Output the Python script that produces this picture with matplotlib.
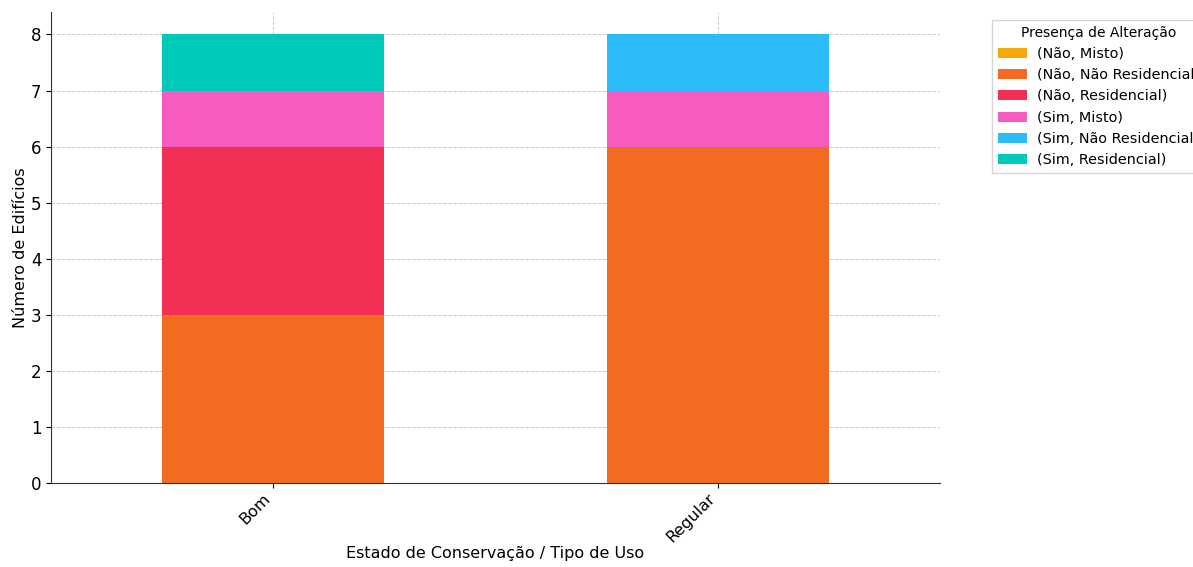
import numpy as np
from matplotlib import pyplot as plt

estados = ['Bom', 'Regular']
series = ['(Não, Misto)', '(Não, Não Residencial)', '(Não, Residencial)',
          '(Sim, Misto)', '(Sim, Não Residencial)', '(Sim, Residencial)']
valores = {
    '(Não, Misto)': [0, 0],
    '(Não, Não Residencial)': [3, 6],
    '(Não, Residencial)': [3, 0],
    '(Sim, Misto)': [1, 1],
    '(Sim, Não Residencial)': [0, 1],
    '(Sim, Residencial)': [1, 0],
}
cores = ['#f5a80c', '#f26b21', '#f23055', '#f75bbf', '#2bbcf9', '#00c9b9']

fig = plt.figure(figsize=(11.93, 5.67), dpi=100)
ax = fig.add_axes([51 / 1193, 1 - 483 / 567, (940 - 51) / 1193, (483 - 12) / 567])

x = np.arange(len(estados))
base = np.zeros(len(estados))
for nome, cor in zip(series, cores):
    v = np.array(valores[nome], dtype=float)
    ax.bar(x, v, 0.5, bottom=base, color=cor, label=nome, zorder=2)
    base += v

ax.set_xlim(-0.5, 1.5)
ax.set_ylim(0, 8.4)
ax.set_xticks(x)
ax.set_xticklabels(estados, rotation=45, ha='right', fontsize=11.5)
ax.tick_params(axis='y', labelsize=12)
ax.tick_params(axis='x', pad=2)
ax.set_xlabel('Estado de Conservação / Tipo de Uso', fontsize=11.5, labelpad=1)
ax.set_ylabel('Número de Edifícios', fontsize=11.5, labelpad=2)
ax.grid(True, linestyle='--', color='#cccccc', linewidth=0.7, zorder=0)
ax.set_axisbelow(True)
ax.spines['top'].set_visible(False)
ax.spines['right'].set_visible(False)
ax.spines['left'].set_color('#333333')
ax.spines['bottom'].set_color('#333333')

ax.legend(title='Presença de Alteração', bbox_to_anchor=(1.0585, 0.983), loc='upper left',
          borderaxespad=0, fontsize=10.4, title_fontsize=10, frameon=True, fancybox=False,
          edgecolor='#cccccc', handlelength=2.0, handletextpad=0.7, labelspacing=0.5)

plt.savefig('out.png', dpi=100)
